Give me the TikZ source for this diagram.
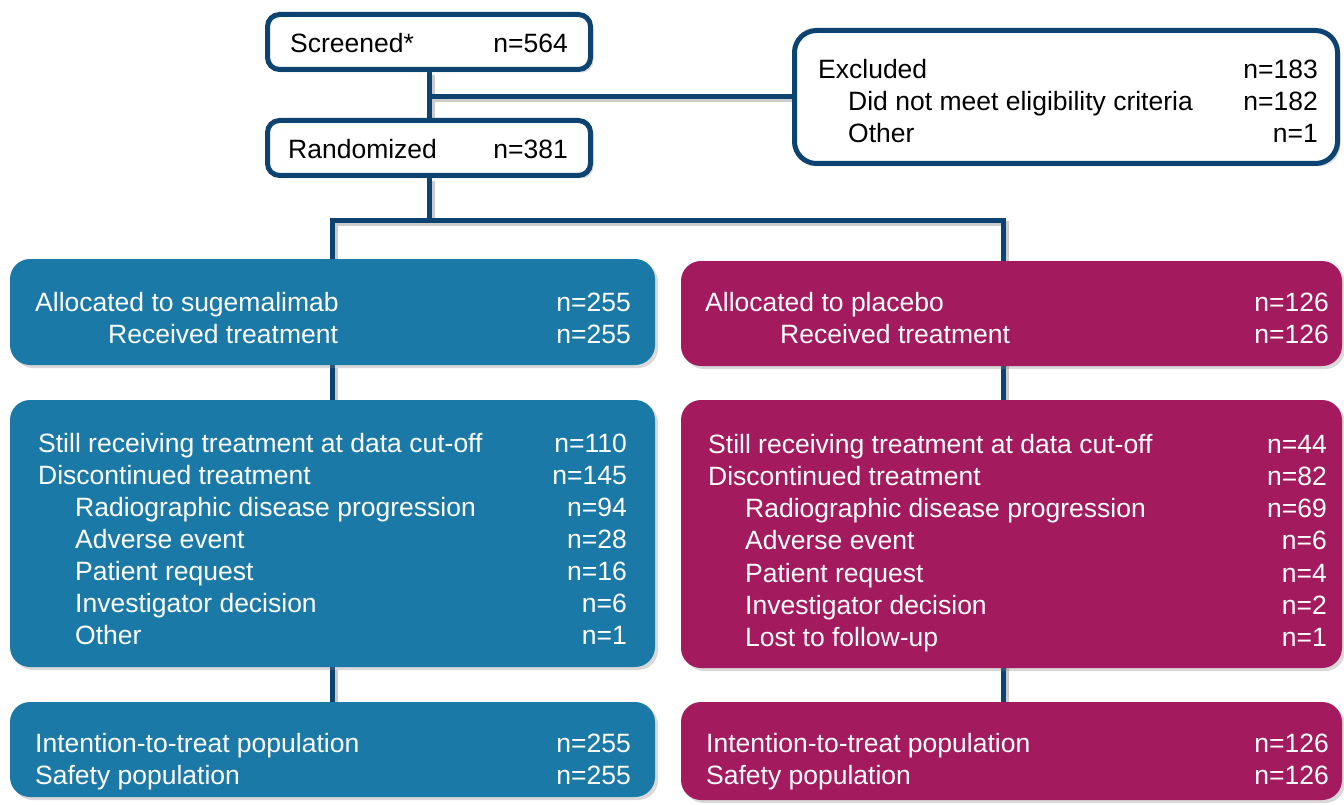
\documentclass[tikz,border=0pt]{standalone}
\usepackage{fontspec}
\setmainfont{Liberation Sans}
\usetikzlibrary{shadows,backgrounds}
\definecolor{linkblue}{RGB}{12,67,112}
\definecolor{armblue}{RGB}{27,121,167}
\definecolor{armred}{RGB}{163,26,95}
\tikzset{
  box/.style={rectangle, inner sep=0pt,
    drop shadow={shadow xshift=3pt, shadow yshift=-3pt, opacity=0.3}},
  plainbox/.style={box, draw=linkblue, line width=5pt, fill=white, rounded corners=12pt},
  bluebox/.style={box, fill=armblue, rounded corners=20pt},
  redbox/.style={box, fill=armred, rounded corners=20pt},
  link/.style={draw=linkblue, line width=5pt,
    preaction={draw=black!20, line width=5pt, transform canvas={shift={(3pt,-3pt)}}}},
  lab/.style={anchor=base west, inner sep=0pt},
  num/.style={anchor=base east, inner sep=0pt},
}
\begin{document}
\begin{tikzpicture}[x=1pt, y=-1pt, font=\fontsize{26.5}{31}\selectfont]
\useasboundingbox (0,0) rectangle (1344,805);

% boxes
\node[plainbox, minimum width=323, minimum height=55] (screened) at (429,42) {};
\node[plainbox, minimum width=323, minimum height=55] (randomized) at (429,148) {};
\node[plainbox, rounded corners=22pt, minimum width=543, minimum height=133] (excluded) at (1066,97) {};
\node[bluebox, minimum width=645, minimum height=106] (alloc1) at (332.5,312) {};
\node[redbox, minimum width=661, minimum height=105] (alloc2) at (1011.5,313.5) {};
\node[bluebox, minimum width=645, minimum height=267] (status1) at (332.5,533.5) {};
\node[redbox, minimum width=661, minimum height=268] (status2) at (1011.5,534) {};
\node[bluebox, minimum width=645, minimum height=95] (pop1) at (332.5,749.5) {};
\node[redbox, minimum width=661, minimum height=98] (pop2) at (1011.5,751) {};

% connectors
\begin{scope}[on background layer]
\coordinate (split) at (429,221);
\draw[link] (screened) -- (randomized);
\draw[link] (excluded.west) -- (excluded.west -| screened);
\draw[link] (randomized) -- (split);
\draw[link] (alloc1.north) |- (split) -| ([xshift=-8pt]alloc2.north);
\draw[link] (alloc1) -- (status1);
\draw[link] (status1) -- (pop1);
\draw[link] ([xshift=-8pt]alloc2.center) -- ([xshift=-8pt]status2.center);
\draw[link] ([xshift=-8pt]status2.center) -- ([xshift=-8pt]pop2.center);
\end{scope}

% texts
\node[lab] (scrt) at (290,53) {Screened*};
\node[num] (scrn) at (568,53) {n=564};
\node[lab] (rndt) at (288,159) {Randomized};
\node[num] (rndn) at (568,159) {n=381};
\foreach \t/\x/\n [count=\i] in {Excluded/818/183, Did not meet eligibility criteria/848/182, Other/848/1}
{
  \node[lab] (ext\i) at (\x,47+32*\i) {\t};
  \node[num] (exn\i) at (1318,47+32*\i) {n=\n};
}
\foreach \t/\x/\n [count=\i] in {Allocated to sugemalimab/35/255, Received treatment/108/255}
{
  \node[lab, white] (a1t\i) at (\x,279+32*\i) {\t};
  \node[num, white] (a1n\i) at (631,279+32*\i) {n=\n};
}
\foreach \t/\x/\n [count=\i] in {Allocated to placebo/705/126, Received treatment/780/126}
{
  \node[lab, white] (a2t\i) at (\x,279+32*\i) {\t};
  \node[num, white] (a2n\i) at (1329,279+32*\i) {n=\n};
}
\foreach \t/\x/\n [count=\i] in {Still receiving treatment at data cut-off/38/110, Discontinued treatment/38/145, Radiographic disease progression/75/94, Adverse event/75/28, Patient request/75/16, Investigator decision/75/6, Other/75/1}
{
  \node[lab, white] (s1t\i) at (\x,420+32.1*\i) {\t};
  \node[num, white] (s1n\i) at (627,420+32.1*\i) {n=\n};
}
\foreach \t/\x/\n [count=\i] in {Still receiving treatment at data cut-off/708/44, Discontinued treatment/708/82, Radiographic disease progression/745/69, Adverse event/745/6, Patient request/745/4, Investigator decision/745/2, Lost to follow-up/745/1}
{
  \node[lab, white] (s2t\i) at (\x,421+32.2*\i) {\t};
  \node[num, white] (s2n\i) at (1327,421+32.2*\i) {n=\n};
}
\foreach \t/\n [count=\i] in {Intention-to-treat population/255, Safety population/255}
{
  \node[lab, white] (p1t\i) at (35,720+32*\i) {\t};
  \node[num, white] (p1n\i) at (631,720+32*\i) {n=\n};
}
\foreach \t/\n [count=\i] in {Intention-to-treat population/126, Safety population/126}
{
  \node[lab, white] (p2t\i) at (706,720+32*\i) {\t};
  \node[num, white] (p2n\i) at (1329,720+32*\i) {n=\n};
}
\end{tikzpicture}
\end{document}
